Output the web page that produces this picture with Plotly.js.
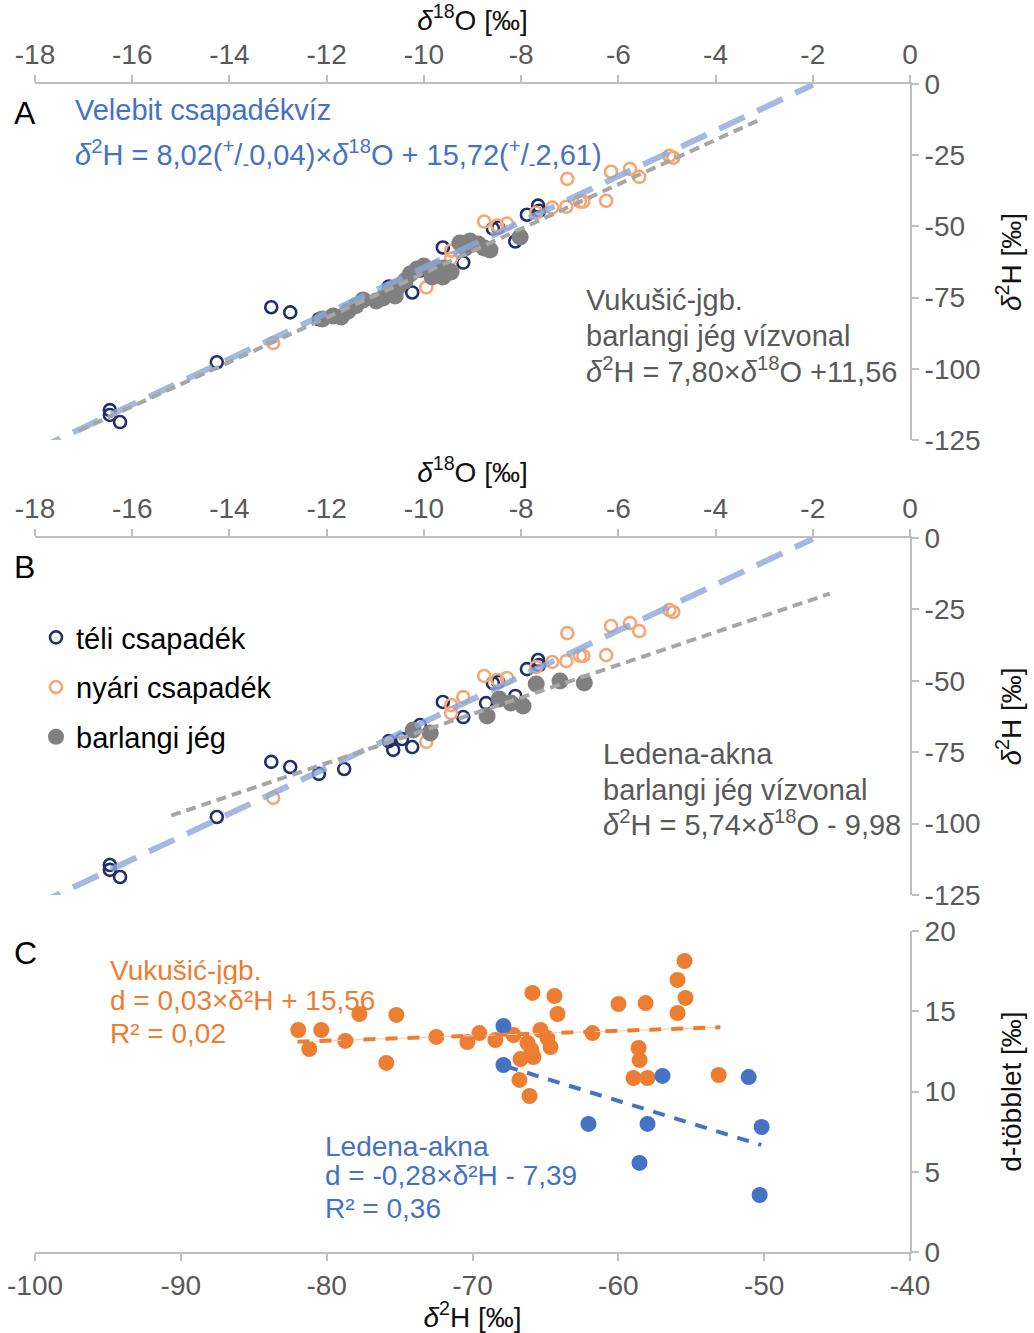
<!DOCTYPE html>
<html>
<head>
<meta charset="utf-8">
<script src="https://cdn.plot.ly/plotly-3.0.1.min.js"></script>
<style>html,body{margin:0;padding:0;background:#fff;}#chart{width:1034px;height:1333px;}</style>
</head>
<body>
<div id="chart"></div>
<script>
// ---------- DATA ----------
// Precipitation (same samples shown in panels A and B): δ18O, δ2H
const winterO = [-16.46,-16.46,-16.25,-14.26,-13.14,-12.75,-12.16,-11.64,-10.72,-10.63,-10.45,-10.24,-10.08,-9.61,-9.19,-8.72,-8.58,-8.47,-8.12,-7.88,-7.65,-7.63];
const winterH = [-114.5,-116.2,-118.7,-97.7,-78.4,-80.2,-82.6,-80.9,-71.1,-74.2,-70.4,-73.2,-65.5,-57.4,-62.7,-57.8,-50.8,-50.4,-55.3,-45.9,-42.7,-44.5];
const summerO = [-13.10,-9.95,-9.44,-9.44,-9.19,-8.76,-8.49,-8.29,-7.69,-7.36,-7.07,-7.05,-6.79,-6.72,-6.25,-6.15,-5.76,-5.57,-4.95,-4.87];
const summerH = [-91.0,-71.4,-58.5,-61.3,-55.7,-48.3,-49.7,-49.0,-45.2,-43.4,-43.1,-33.3,-41.3,-41.3,-41.0,-30.8,-29.8,-32.6,-25.2,-25.9];
// Cave ice, Vukušić-jgb. (panel A)
const vukIceO = [-12.09,-11.87,-11.70,-11.56,-11.40,-11.25,-10.98,-10.84,-10.70,-10.59,-10.53,-10.39,-10.28,-10.14,-10.00,-9.87,-9.73,-9.58,-9.44,-9.83,-9.61,-9.26,-9.15,-9.05,-8.88,-8.76,-8.64,-8.02];
const vukIceH = [-82.5,-81.5,-81.8,-79.7,-77.9,-75.8,-76.2,-75.1,-72.7,-74.4,-71.3,-69.2,-66.7,-65.0,-63.9,-65.3,-64.6,-64.6,-66.0,-67.8,-67.8,-55.8,-57.6,-55.1,-56.2,-57.6,-58.3,-53.7];
// Cave ice, Ledena-akna (panel B)
const ledIceO = [-10.22,-9.87,-8.70,-8.45,-8.21,-7.96,-7.69,-7.20,-6.70];
const ledIceH = [-67.2,-68.3,-62.3,-56.4,-57.8,-58.8,-51.1,-50.1,-50.8];
// Lines (end points)
const lmwlO = [-18, -2];
const lmwlH = [-128.6, -0.3];
const vukLineO = [-17.1, -3.1];
const vukLineH = [-121.8, -12.6];
const ledLineO = [-15.2, -1.65];
const ledLineH = [-97.2, -19.5];
// Panel C: d-excess vs δ2H
const vukDH = [-81.95,-80.37,-81.19,-78.72,-77.76,-75.22,-75.91,-72.48,-70.35,-69.53,-68.43,-67.19,-66.23,-65.96,-65.34,-64.86,-64.65,-66.71,-65.82,-66.78,-66.09,-65.89,-64.38,-64.17,-61.77,-59.99,-58.13,-58.61,-58.54,-58.96,-58.00,-55.94,-55.46,-55.39,-55.94,-53.12];
const vukD  = [13.83,13.83,12.65,13.15,14.83,14.77,11.78,13.40,13.08,13.64,13.21,13.52,13.02,12.59,13.83,13.33,12.77,12.02,12.15,10.72,9.72,16.14,15.95,14.83,13.64,15.45,15.51,12.71,11.96,10.84,10.84,16.95,18.13,15.83,14.89,11.03];
const ledDH = [-67.88,-67.88,-62.05,-58.00,-56.97,-58.55,-51.06,-50.17,-50.31];
const ledD  = [14.08,11.65,7.98,7.98,10.97,5.55,10.90,7.79,3.55];
const vukTrendDH = [-82, -53];
const vukTrendD  = [13.1, 14.0];
const ledTrendDH = [-67.7, -50.2];
const ledTrendD  = [11.57, 6.67];
// Tick labels
const o18Ticks = [-18,-16,-14,-12,-10,-8,-6,-4,-2,0];
const o18Labels = ['-18','-16','-14','-12','-10','-8','-6','-4','-2','0'];
const h2Ticks = [0,-25,-50,-75,-100,-125];
const h2Labels = ['0','-25','-50','-75','-100','-125'];
const dHTicks = [-100,-90,-80,-70,-60,-50,-40];
const dHLabels = ['-100','-90','-80','-70','-60','-50','-40'];
const dTicks = [0,5,10,15,20];
const dLabels = ['0','5','10','15','20'];

// ---------- STYLE ----------
const FONT = 'Liberation Sans, Arial, sans-serif';
const W = 1034, H = 1333;
const px = v => v / W;
const py = v => (H - v) / H;
const navy = '#1f2f6b', lorange = '#f4a772', gray = '#808080';
const lmwlColor = 'rgba(140,167,218,0.8)', grayLine = '#a6a6a6';
const cOrange = '#ed7d31', cBlue = '#4472c4';
const axColor = '#bfbfbf', tickFontColor = '#595959';

function openMarker(color){ return {symbol:'circle-open', size:12, line:{color:color, width:2.6}, color:color}; }
const iceMarker = {symbol:'circle', size:17, color:gray};

const traces = [
  // Panel A
  {x:winterO, y:winterH, xaxis:'x', yaxis:'y', type:'scatter', mode:'markers', marker:openMarker(navy), showlegend:false, name:'téli csapadék'},
  {x:summerO, y:summerH, xaxis:'x', yaxis:'y', type:'scatter', mode:'markers', marker:openMarker(lorange), showlegend:false, name:'nyári csapadék'},
  {x:vukIceO, y:vukIceH, xaxis:'x', yaxis:'y', type:'scatter', mode:'markers', marker:iceMarker, showlegend:false, name:'barlangi jég'},
  {x:lmwlO, y:lmwlH, xaxis:'x', yaxis:'y', type:'scatter', mode:'lines', line:{color:lmwlColor, width:6, dash:'28px,14px'}, showlegend:false, hoverinfo:'skip'},
  {x:vukLineO, y:vukLineH, xaxis:'x', yaxis:'y', type:'scatter', mode:'lines', line:{color:grayLine, width:4, dash:'10px,6px'}, showlegend:false, hoverinfo:'skip'},
  // Panel B
  {x:winterO, y:winterH, xaxis:'x2', yaxis:'y2', type:'scatter', mode:'markers', marker:openMarker(navy), name:'téli csapadék', legendgroup:'a'},
  {x:summerO, y:summerH, xaxis:'x2', yaxis:'y2', type:'scatter', mode:'markers', marker:openMarker(lorange), name:'nyári csapadék', legendgroup:'b'},
  {x:ledIceO, y:ledIceH, xaxis:'x2', yaxis:'y2', type:'scatter', mode:'markers', marker:iceMarker, name:'barlangi jég', legendgroup:'c'},
  {x:lmwlO, y:lmwlH, xaxis:'x2', yaxis:'y2', type:'scatter', mode:'lines', line:{color:lmwlColor, width:6, dash:'28px,14px'}, showlegend:false, hoverinfo:'skip'},
  {x:ledLineO, y:ledLineH, xaxis:'x2', yaxis:'y2', type:'scatter', mode:'lines', line:{color:grayLine, width:4, dash:'10px,6px'}, showlegend:false, hoverinfo:'skip'},
  // Panel C
  {x:vukDH, y:vukD, xaxis:'x3', yaxis:'y3', type:'scatter', mode:'markers', marker:{size:16, color:cOrange}, showlegend:false, name:'Vukušić-jgb.'},
  {x:ledDH, y:ledD, xaxis:'x3', yaxis:'y3', type:'scatter', mode:'markers', marker:{size:16, color:cBlue}, showlegend:false, name:'Ledena-akna'},
  {x:vukTrendDH, y:vukTrendD, xaxis:'x3', yaxis:'y3', type:'scatter', mode:'lines', line:{color:'#f8cbad', width:1}, showlegend:false, hoverinfo:'skip'},
  {x:vukTrendDH, y:vukTrendD, xaxis:'x3', yaxis:'y3', type:'scatter', mode:'lines', line:{color:cOrange, width:4, dash:'12px,10px'}, showlegend:false, hoverinfo:'skip'},
  {x:ledTrendDH, y:ledTrendD, xaxis:'x3', yaxis:'y3', type:'scatter', mode:'lines', line:{color:cBlue, width:4, dash:'12px,10px'}, showlegend:false, hoverinfo:'skip'}
];

const xDom = [px(35), px(910)];
const tickFont = {family:FONT, size:28, color:tickFontColor};
const titleFont = {family:FONT, size:28, color:'#111'};
function xAx(extra){
  return Object.assign({domain:xDom, showline:true, linecolor:axColor, linewidth:2, ticks:'outside', ticklen:7, tickwidth:2, tickcolor:axColor,
    tickfont:tickFont, showgrid:false, zeroline:false, tickmode:'array', fixedrange:true}, extra);
}
function yAx(extra){
  return Object.assign({side:'right', showline:true, linecolor:axColor, linewidth:2, ticks:'outside', ticklen:7, tickwidth:2, tickcolor:axColor,
    tickfont:tickFont, showgrid:false, zeroline:false, tickmode:'array', fixedrange:true}, extra);
}
// companion axes drawing the inner half of each tick so ticks cross the axis line
function ghost(base, extra){
  return Object.assign({overlaying:base, showline:false, showticklabels:false, ticks:'inside', ticklen:7, tickwidth:2, tickcolor:axColor,
    showgrid:false, zeroline:false, tickmode:'array', fixedrange:true}, extra);
}
const o18Title = {text:'<i>δ</i><sup>18</sup>O [‰]', font:titleFont, standoff:2};
const h2Title = {text:'<i>δ</i><sup>2</sup>H [‰]', font:titleFont, standoff:22};

const layout = {
  width:W, height:H, margin:{l:0,r:0,t:0,b:0}, paper_bgcolor:'#fff', plot_bgcolor:'rgba(0,0,0,0)',
  font:{family:FONT, color:'#000'},
  xaxis: xAx({anchor:'y', side:'top', range:[-18,0], tickvals:o18Ticks, ticktext:o18Labels, title:o18Title}),
  yaxis: yAx({anchor:'x', domain:[py(440), py(84)], range:[-125,0], tickvals:h2Ticks, ticktext:h2Labels, title:h2Title}),
  xaxis2: xAx({anchor:'y2', side:'top', range:[-18,0], tickvals:o18Ticks, ticktext:o18Labels, title:o18Title}),
  yaxis2: yAx({anchor:'x2', domain:[py(895), py(538)], range:[-125,0], tickvals:h2Ticks, ticktext:h2Labels, title:h2Title}),
  xaxis3: xAx({anchor:'y3', side:'bottom', range:[-100,-40], tickvals:dHTicks, ticktext:dHLabels, title:{text:'<i>δ</i><sup>2</sup>H [‰]', font:titleFont, standoff:0}}),
  yaxis3: yAx({anchor:'x3', domain:[py(1252), py(931)], range:[0,20], tickvals:dTicks, ticktext:dLabels, title:{text:'d-többlet [‰]', font:titleFont, standoff:47}}),
  xaxis4: ghost('x', {anchor:'y', side:'top', range:[-18,0], tickvals:o18Ticks}),
  yaxis4: ghost('y', {anchor:'x', side:'right', range:[-125,0], tickvals:h2Ticks}),
  xaxis5: ghost('x2', {anchor:'y2', side:'top', range:[-18,0], tickvals:o18Ticks}),
  yaxis5: ghost('y2', {anchor:'x2', side:'right', range:[-125,0], tickvals:h2Ticks}),
  xaxis6: ghost('x3', {anchor:'y3', side:'bottom', range:[-100,-40], tickvals:dHTicks}),
  yaxis6: ghost('y3', {anchor:'x3', side:'right', range:[0,20], tickvals:dTicks}),
  showlegend:true,
  legend:{x:px(36), y:py(612), xanchor:'left', yanchor:'top', bgcolor:'rgba(0,0,0,0)', font:{family:FONT, size:29, color:'#000'},
    traceorder:'grouped', tracegroupgap:9, itemclick:false, itemdoubleclick:false},
  annotations: [],
  hovermode:false
};

function note(text, x, y, color, size, extra){
  layout.annotations.push(Object.assign({text:text, xref:'paper', yref:'paper', x:px(x), y:py(y), xanchor:'left', yanchor:'middle',
    showarrow:false, font:{family:FONT, size:size, color:color}}, extra||{}));
}
// Panel labels
note('A', 12, 113, '#000', 32);
note('B', 12, 567, '#000', 32);
note('C', 12, 953, '#000', 32);
// Panel A texts
note('Velebit csapadékvíz', 73, 110, cBlue, 29);
note('<i>δ</i><sup>2</sup>H = 8,02(<sup>+</sup>/<sub>-</sub>0,04)×<i>δ</i><sup>18</sup>O + 15,72(<sup>+</sup>/<sub>-</sub>2,61)', 73, 155, cBlue, 29);
note('Vukušić-jgb.', 584, 300, '#595959', 29);
note('barlangi jég vízvonal', 584, 336, '#595959', 29);
note('<i>δ</i><sup>2</sup>H = 7,80×<i>δ</i><sup>18</sup>O +11,56', 584, 370, '#595959', 29);
// Panel B texts
note('Ledena-akna', 601, 754, '#595959', 29);
note('barlangi jég vízvonal', 601, 790, '#595959', 29);
note('<i>δ</i><sup>2</sup>H = 5,74×<i>δ</i><sup>18</sup>O - 9,98', 601, 823, '#595959', 29);
// Panel C texts (tight line spacing as in the reference; boxes limited in height)
note('Vukušić-jgb.', 108, 970, cOrange, 28, {height:28});
note('d = 0,03×δ²H + 15,56', 108, 1000, cOrange, 28, {height:28});
note('R² = 0,02', 108, 1033, cOrange, 28, {height:28});
note('Ledena-akna', 323, 1146, cBlue, 28, {height:28});
note('d = -0,28×δ²H - 7,39', 323, 1175, cBlue, 28, {height:28});
note('R² = 0,36', 323, 1208, cBlue, 28, {height:28});

Plotly.newPlot('chart', traces, layout, {staticPlot:true, displayModeBar:false});
</script>
</body>
</html>
